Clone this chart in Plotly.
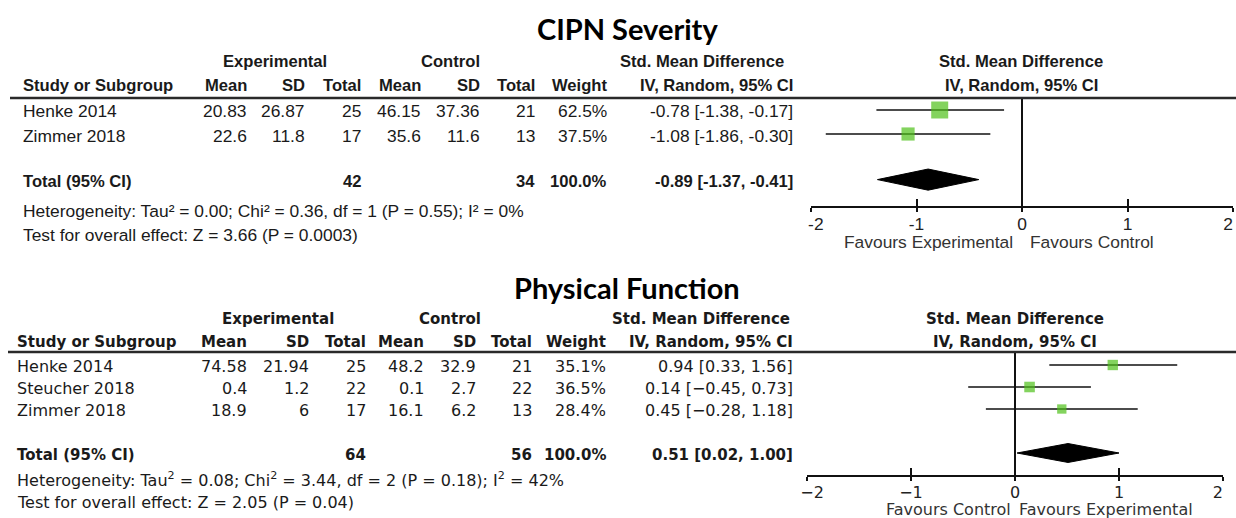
import plotly.graph_objects as go

# ---------------- data: CIPN Severity ----------------
cipn_studies = ["Henke 2014", "Zimmer 2018"]
cipn_exp_mean = [20.83, 22.6]
cipn_exp_sd = [26.87, 11.8]
cipn_exp_n = [25, 17]
cipn_ctl_mean = [46.15, 35.6]
cipn_ctl_sd = [37.36, 11.6]
cipn_ctl_n = [21, 13]
cipn_weight = [62.5, 37.5]
cipn_smd = [-0.78, -1.08]
cipn_lo = [-1.38, -1.86]
cipn_hi = [-0.17, -0.30]
cipn_total = {"exp_n": 42, "ctl_n": 34, "weight": 100.0, "smd": -0.89, "lo": -1.37, "hi": -0.41}
cipn_het = "Heterogeneity: Tau² = 0.00; Chi² = 0.36, df = 1 (P = 0.55); I² = 0%"
cipn_test = "Test for overall effect: Z = 3.66 (P = 0.0003)"
cipn_favours = ["Favours Experimental", "Favours Control"]

# ---------------- data: Physical Function ----------------
pf_studies = ["Henke 2014", "Steucher 2018", "Zimmer 2018"]
pf_exp_mean = [74.58, 0.4, 18.9]
pf_exp_sd = [21.94, 1.2, 6]
pf_exp_n = [25, 22, 17]
pf_ctl_mean = [48.2, 0.1, 16.1]
pf_ctl_sd = [32.9, 2.7, 6.2]
pf_ctl_n = [21, 22, 13]
pf_weight = [35.1, 36.5, 28.4]
pf_smd = [0.94, 0.14, 0.45]
pf_lo = [0.33, -0.45, -0.28]
pf_hi = [1.56, 0.73, 1.18]
pf_total = {"exp_n": 64, "ctl_n": 56, "weight": 100.0, "smd": 0.51, "lo": 0.02, "hi": 1.00}
pf_het = "Heterogeneity: Tau<sup>2</sup> = 0.08; Chi<sup>2</sup> = 3.44, df = 2 (P = 0.18); I<sup>2</sup> = 42%"
pf_test = "Test for overall effect: Z = 2.05 (P = 0.04)"
pf_favours = ["Favours Control", "Favours Experimental"]

tick_vals = [-2, -1, 0, 1, 2]
cipn_tick_text = ["-2", "-1", "0", "1", "2"]
pf_tick_text = ["\u22122", "\u22121", "0", "1", "2"]

# ---------------- layout helpers ----------------
W, H = 1236, 518
FONT_TOP = "Liberation Sans, Arial, sans-serif"
FONT_BOT = "DejaVu Sans, Verdana, sans-serif"
FONT_TITLE = "Lato, Calibri, sans-serif"
TXT = "#1a1a1a"
GREEN = "#4fc01a"
PAD = "\u2007"  # figure space: keeps end tick labels inside the axis, as RevMan does

annotations = []
shapes = []


def px(x):
    return x / W


def py(y):
    return 1 - y / H


def text(x, y, s, anchor="left", bold=False, font=FONT_TOP, size=16, color=TXT):
    if bold:
        s = "<b>" + s + "</b>"
    annotations.append(dict(
        x=px(x), y=py(y), xref="paper", yref="paper", text=s, showarrow=False,
        xanchor=anchor, yanchor="middle", borderpad=0,
        font=dict(family=font, size=size, color=color)))


def fmt_ci(smd, lo, hi, minus):
    def f(v):
        s = "{:.2f}".format(v)
        return s.replace("-", minus)
    return "{} [{}, {}]".format(f(smd), f(lo), f(hi))


def padded(labels):
    out = list(labels)
    out[0] = PAD + out[0]
    out[-1] = out[-1] + PAD
    return out


fig = go.Figure()


def panel(cfg):
    p = cfg
    font = p["font"]
    fs = p["fs"]
    fb = p["fb"]
    # title
    text(627, p["title_y"], p["title"], anchor="center", bold=True, font=FONT_TITLE, size=29, color="#000")
    # header row 1
    text(p["cx_exp"], p["h1"], "Experimental", "center", True, font, fb)
    text(p["cx_ctl"], p["h1"], "Control", "center", True, font, fb)
    text(p["cx_smd"], p["h1"], "Std. Mean Difference", "center", True, font, fb)
    text(p["cx_plot"], p["h1"], "Std. Mean Difference", "center", True, font, fb)
    # header row 2
    cols = p["cols"]
    text(p["x_study"], p["h2"], "Study or Subgroup", "left", True, font, fb)
    heads = ["Mean", "SD", "Total", "Mean", "SD", "Total", "Weight", "IV, Random, 95% CI"]
    for hx, ht in zip(cols, heads):
        text(hx, p["h2"], ht, "right", True, font, fb)
    text(p["cx_plot"], p["h2"], "IV, Random, 95% CI", "center", True, font, fb)
    # header rule
    shapes.append(dict(type="line", xref="paper", yref="paper",
                       x0=px(p["rule_x0"]), x1=1, y0=py(p["rule_y"]), y1=py(p["rule_y"]),
                       line=dict(color="#2a2a2a", width=2.5)))
    # study rows
    d = p["data"]
    n = len(d["studies"])
    for i in range(n):
        yy = p["row0"] + p["step"] * i + 1.5
        vals = ["{:g}".format(d["em"][i]), "{:g}".format(d["es"][i]), str(d["en"][i]),
                "{:g}".format(d["cm"][i]), "{:g}".format(d["cs"][i]), str(d["cn"][i]),
                "{:.1f}%".format(d["w"][i]),
                fmt_ci(d["smd"][i], d["lo"][i], d["hi"][i], p["minus"])]
        text(p["x_study"], yy, d["studies"][i], "left", False, font, fs)
        for hx, v in zip(cols, vals):
            text(hx, yy, v, "right", False, font, fs)
    # total row
    t = d["total"]
    ty = p["row0"] + p["step"] * p["total_row"] + 1.5
    text(p["x_study"], ty, "Total (95% CI)", "left", True, font, fb)
    text(cols[2], ty, str(t["exp_n"]), "right", True, font, fb)
    text(cols[5], ty, str(t["ctl_n"]), "right", True, font, fb)
    text(cols[6], ty, "{:.1f}%".format(t["weight"]), "right", True, font, fb)
    text(cols[7], ty, fmt_ci(t["smd"], t["lo"], t["hi"], p["minus"]), "right", True, font, fb)
    # heterogeneity / test
    text(p["x_study"], p["het_y"], d["het"], "left", False, font, fs)
    text(p["x_study"], p["test_y"], d["test"], "left", False, font, fs)
    # favours
    text(p["fav_x"][0], p["fav_y"], d["fav"][0], "center", False, font, fs, "#333")
    text(p["fav_x"][1], p["fav_y"], d["fav"][1], "center", False, font, fs, "#333")

    # ---- forest plot traces ----
    xa, ya, xa2 = p["axes"]
    rows = list(range(n))
    cx, cy = [], []
    for i in rows:
        cx += [d["lo"][i], d["hi"][i], None]
        cy += [i, i, None]
    fig.add_trace(go.Scatter(x=cx, y=cy, mode="lines", line=dict(color="#111", width=1.5),
                             xaxis=xa, yaxis=ya, showlegend=False, hoverinfo="skip"))
    sizes = [p["sq_k"] * (w ** 0.5) for w in d["w"]]
    fig.add_trace(go.Scatter(x=d["smd"], y=rows, mode="markers",
                             marker=dict(symbol="square", size=sizes, color=GREEN, line=dict(width=0)),
                             xaxis=xa, yaxis=ya, showlegend=False))
    tr = p["total_row"]
    hh = p["dia_h"]
    fig.add_trace(go.Scatter(x=[t["lo"], t["smd"], t["hi"], t["smd"], t["lo"]],
                             y=[tr, tr - hh, tr, tr + hh, tr],
                             mode="lines", fill="toself", fillcolor="#000",
                             line=dict(color="#000", width=1),
                             xaxis=xa, yaxis=ya, showlegend=False, hoverinfo="skip"))
    fig.add_trace(go.Scatter(x=[None], y=[None], xaxis=xa2, yaxis=ya, showlegend=False))

    xkey = "xaxis" + xa[1:]
    x2key = "xaxis" + xa2[1:]
    ykey = "yaxis" + ya[1:]
    y0, y1 = p["plot_y"]
    ytop = (y0 - p["row0"]) / p["step"]
    ybot = (y1 - p["row0"]) / p["step"]
    fig.update_layout(**{
        xkey: dict(domain=[px(p["plot_x"][0]), px(p["plot_x"][1])], range=[-2, 2],
                   anchor=ya, showgrid=False, zeroline=True, zerolinecolor="#111", zerolinewidth=1.5,
                   showline=True, linecolor="#111", linewidth=1.8, automargin=False,
                   ticks="outside", ticklen=4, tickwidth=1.8, tickcolor="#111",
                   tickvals=tick_vals, ticktext=padded(p["ticktext"]),
                   ticklabelstandoff=p["standoff"], ticklabeloverflow="allow",
                   tickfont=dict(family=font, size=fs, color="#222"), fixedrange=True),
        x2key: dict(overlaying=xa, range=[-2, 2], anchor=ya, side="bottom", automargin=False,
                    showgrid=False, zeroline=False, showline=False,
                    ticks="inside", ticklen=7, tickwidth=1.8, tickcolor="#111",
                    tickvals=tick_vals, showticklabels=False, fixedrange=True),
        ykey: dict(domain=[py(y1), py(y0)], range=[ybot, ytop], visible=False,
                   automargin=False, fixedrange=True),
    })


panel(dict(
    title="CIPN Severity", title_y=28, font=FONT_TOP, fs=17.4, fb=16.6,
    h1=62, h2=85, x_study=22,
    cx_exp=275, cx_ctl=450, cx_smd=702, cx_plot=1021,
    cols=[248, 306, 362, 422, 481, 536, 608, 794],
    rule_x0=10, rule_y=98, row0=110, step=24, total_row=2.9,
    het_y=211, test_y=235, fav_x=[928, 1092], fav_y=242, minus="-", standoff=-3,
    plot_x=[811, 1233], plot_y=[98, 206], sq_k=2.15, dia_h=0.44,
    ticktext=cipn_tick_text, axes=("x", "y", "x3"),
    data=dict(studies=cipn_studies, em=cipn_exp_mean, es=cipn_exp_sd, en=cipn_exp_n,
              cm=cipn_ctl_mean, cs=cipn_ctl_sd, cn=cipn_ctl_n, w=cipn_weight,
              smd=cipn_smd, lo=cipn_lo, hi=cipn_hi, total=cipn_total,
              het=cipn_het, test=cipn_test, fav=cipn_favours),
))

panel(dict(
    title="Physical Function", title_y=287, font=FONT_BOT, fs=16, fb=15,
    h1=319, h2=342, x_study=16,
    cx_exp=278, cx_ctl=450, cx_smd=701, cx_plot=1015,
    cols=[248, 310, 367, 425, 477, 533, 607, 794],
    rule_x0=8, rule_y=352, row0=365, step=22, total_row=4,
    het_y=479, test_y=502, fav_x=[948, 1106], fav_y=509, minus="\u2212", standoff=-2,
    plot_x=[807, 1223], plot_y=[352, 475], sq_k=1.75, dia_h=0.43,
    ticktext=pf_tick_text, axes=("x2", "y2", "x4"),
    data=dict(studies=pf_studies, em=pf_exp_mean, es=pf_exp_sd, en=pf_exp_n,
              cm=pf_ctl_mean, cs=pf_ctl_sd, cn=pf_ctl_n, w=pf_weight,
              smd=pf_smd, lo=pf_lo, hi=pf_hi, total=pf_total,
              het=pf_het, test=pf_test, fav=pf_favours),
))

fig.update_layout(
    width=W, height=H, autosize=False,
    margin=dict(l=0, r=0, t=0, b=0, autoexpand=False),
    paper_bgcolor="white", plot_bgcolor="rgba(0,0,0,0)",
    annotations=annotations, shapes=shapes, showlegend=False,
)

fig.write_html("out.html", config={"displayModeBar": False},
               post_script="document.body.style.margin='0';document.body.style.overflow='hidden';")
